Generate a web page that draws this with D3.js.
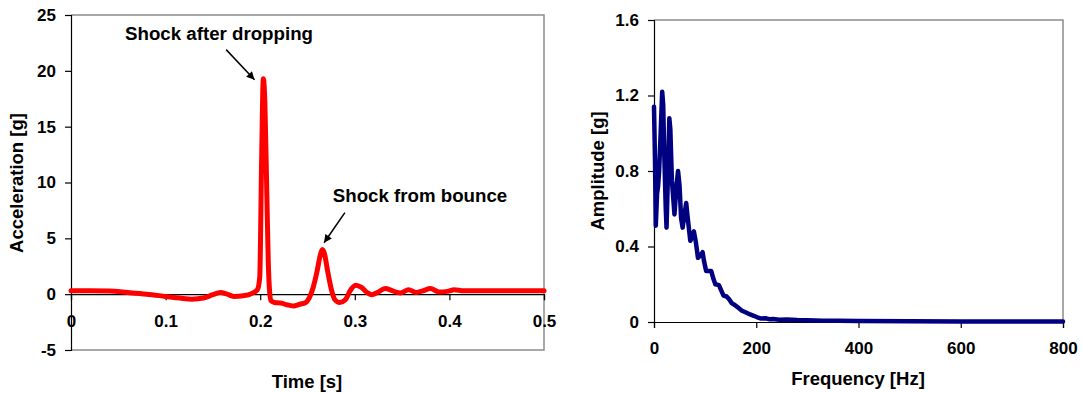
<!DOCTYPE html>
<html>
<head>
<meta charset="utf-8">
<script src="https://cdn.jsdelivr.net/npm/d3@7"></script>
<style>
  body { margin: 0; background: white; }
  text { font-family: "Liberation Sans", Arial, sans-serif; font-weight: bold; fill: black; }
</style>
</head>
<body>
<div id="chart"></div>
<script>
// time signal (left)
var timeValues = [0, 0.02, 0.04, 0.06, 0.08, 0.1, 0.115, 0.128, 0.14, 0.15, 0.158, 0.165, 0.172, 0.182, 0.192, 0.197,
  0.1995, 0.2015, 0.2033, 0.205, 0.207, 0.2085, 0.21, 0.2115, 0.215, 0.222, 0.228, 0.235, 0.242, 0.248, 0.252,
  0.256, 0.26, 0.2635, 0.2657, 0.268, 0.271, 0.275, 0.279, 0.284, 0.29, 0.295, 0.301, 0.307, 0.313, 0.318, 0.324,
  0.332, 0.34, 0.348, 0.357, 0.365, 0.372, 0.38, 0.389, 0.398, 0.405, 0.415, 0.43, 0.45, 0.47, 0.5];
var accelValues = [0.3, 0.3, 0.28, 0.15, 0.0, -0.2, -0.35, -0.45, -0.35, -0.05, 0.15, 0.0, -0.2, -0.15, 0.1, 0.4,
  1.5, 12, 19.3, 17, 9, 3, 0.2, -0.6, -0.75, -0.8, -0.95, -1.05, -0.9, -0.75, -0.3,
  0.6, 2.0, 3.5, 4.0, 3.6, 2.2, 0.5, -0.5, -0.75, -0.5, 0.3, 0.8, 0.6, 0.15, -0.05, 0.15,
  0.5, 0.3, 0.1, 0.4, 0.15, 0.3, 0.5, 0.2, 0.25, 0.4, 0.3, 0.3, 0.3, 0.3, 0.3];
var timeTicks = [0, 0.1, 0.2, 0.3, 0.4, 0.5];
var accelTicks = [-5, 0, 5, 10, 15, 20, 25];

// spectrum (right)
var freqValues = [0, 2, 3.5, 6, 8, 10, 13, 16, 18, 20, 23, 24.5, 27, 30, 32, 35, 37, 40, 44, 47, 50, 53, 56, 60, 63, 66,
  71, 74, 78, 82, 86, 90, 95, 98, 102, 107, 112, 116, 120, 127, 131, 136, 142, 147, 152, 158, 165, 172, 180, 188,
  195, 202, 210, 218, 225, 233, 245, 260, 280, 300, 330, 360, 400, 500, 600, 700, 800];
var ampValues = [1.14, 0.85, 0.51, 0.68, 0.72, 0.8, 1.0, 1.22, 1.15, 0.9, 0.6, 0.5, 0.75, 1.08, 1.02, 0.75, 0.68, 0.57,
  0.72, 0.8, 0.72, 0.55, 0.5, 0.58, 0.63, 0.55, 0.43, 0.45, 0.48, 0.42, 0.34, 0.35, 0.37, 0.32, 0.27, 0.27, 0.27,
  0.23, 0.2, 0.195, 0.17, 0.14, 0.135, 0.12, 0.1, 0.09, 0.075, 0.06, 0.05, 0.04, 0.033, 0.025, 0.018, 0.02, 0.015,
  0.016, 0.012, 0.013, 0.01, 0.009, 0.007, 0.006, 0.005, 0.004, 0.003, 0.003, 0.003];
var freqTicks = [0, 200, 400, 600, 800];
var ampTicks = [0, 0.4, 0.8, 1.2, 1.6];

var annotations = [
  { "label": "Shock after dropping", "tx": 219, "ty": 40 },
  { "label": "Shock from bounce", "tx": 420, "ty": 202 }
];

var svg = d3.select("#chart").append("svg")
            .attr("width", 1083)
            .attr("height", 393);

svg.append("defs").append("marker")
   .attr("id", "head")
   .attr("viewBox", "0 0 10 10")
   .attr("refX", 10).attr("refY", 5)
   .attr("markerWidth", 9).attr("markerHeight", 8)
   .attr("markerUnits", "userSpaceOnUse")
   .attr("orient", "auto")
   .append("path").attr("d", "M0,0 L10,5 L0,10 z").style("fill", "black");

// plain hyphen for negatives, "0" without decimals
var fmt = function (d) { return d === 0 ? "0" : d3.format(".1f")(d); };
var fmtInt = function (d) { return String(d); };

// ---------- left chart ----------
var x1 = d3.scaleLinear().domain([0, 0.5]).range([71, 544]);
var y1 = d3.scaleLinear().domain([-5, 25]).range([350, 15]);

var left = svg.append("g");

left.append("path")
    .attr("d", "M" + x1(0) + "," + y1(25) + "H" + x1(0.5) + "V" + y1(-5) + "H" + x1(0))
    .style("fill", "none").style("stroke", "#8c8c8c").style("stroke-width", 1.5);

left.append("g")
    .attr("transform", "translate(" + x1(0) + ",0)")
    .call(d3.axisLeft(y1).tickValues(accelTicks).tickSizeOuter(0).tickSize(6).tickPadding(9).tickFormat(fmtInt));

left.append("g")
    .attr("transform", "translate(0," + y1(0) + ")")
    .call(d3.axisBottom(x1).tickValues(timeTicks).tickSizeOuter(0).tickSize(6).tickPadding(15).tickFormat(fmt));

var line1 = d3.line()
    .x(function (d, i) { return x1(timeValues[i]); })
    .y(function (d) { return y1(d); })
    .curve(d3.curveMonotoneX);

left.append("path")
    .attr("d", line1(accelValues))
    .style("fill", "none").style("stroke", "#ff0000").style("stroke-width", 5)
    .style("stroke-linejoin", "round").style("stroke-linecap", "round");

left.append("text").attr("transform", "translate(23,183) rotate(-90)")
    .attr("text-anchor", "middle").style("font-size", "18.5px").text("Acceleration [g]");
left.append("text").attr("x", 307).attr("y", 388)
    .attr("text-anchor", "middle").style("font-size", "18.5px").text("Time [s]");

left.selectAll(".note").data(annotations).enter().append("text")
    .attr("class", "note")
    .attr("x", function (d) { return d.tx; })
    .attr("y", function (d) { return d.ty; })
    .attr("text-anchor", "middle").style("font-size", "18.7px")
    .text(function (d) { return d.label; });

// arrows pointing at the two peaks
var arrowData = [
  { "start_x": x1(0.164), "start_y": y1(21.9), "end_x": x1(0.194), "end_y": y1(19.2) },
  { "start_x": x1(0.2895), "start_y": y1(7.3), "end_x": x1(0.2675), "end_y": y1(4.6) }
];
left.selectAll(".arrow").data(arrowData).enter().append("line")
    .attr("x1", function (d) { return d.start_x; })
    .attr("y1", function (d) { return d.start_y; })
    .attr("x2", function (d) { return d.end_x; })
    .attr("y2", function (d) { return d.end_y; })
    .style("stroke", "black").style("stroke-width", 1.5)
    .attr("marker-end", "url(#head)");

// ---------- right chart ----------
var x2 = d3.scaleLinear().domain([0, 800]).range([654, 1063]);
var y2 = d3.scaleLinear().domain([0, 1.6]).range([322, 20]);

var right = svg.append("g");

right.append("path")
    .attr("d", "M" + x2(0) + "," + y2(1.6) + "H" + x2(800) + "V" + y2(0))
    .style("fill", "none").style("stroke", "#8c8c8c").style("stroke-width", 1.5);

right.append("g")
    .attr("transform", "translate(" + x2(0) + ",0)")
    .call(d3.axisLeft(y2).tickValues(ampTicks).tickSizeOuter(0).tickSize(6).tickPadding(9).tickFormat(fmt));

right.append("g")
    .attr("transform", "translate(0," + y2(0) + ")")
    .call(d3.axisBottom(x2).tickValues(freqTicks).tickSizeOuter(0).tickSize(6).tickPadding(14).tickFormat(fmtInt));

var line2 = d3.line()
    .x(function (d, i) { return x2(freqValues[i]); })
    .y(function (d) { return y2(d); });

right.append("path")
    .attr("d", line2(ampValues))
    .style("fill", "none").style("stroke", "#000080").style("stroke-width", 4.5)
    .style("stroke-linejoin", "round").style("stroke-linecap", "round");

right.append("text").attr("transform", "translate(604,171) rotate(-90)")
    .attr("text-anchor", "middle").style("font-size", "18.5px").text("Amplitude [g]");
right.append("text").attr("x", 858).attr("y", 385)
    .attr("text-anchor", "middle").style("font-size", "18.5px").text("Frequency [Hz]");

svg.selectAll(".tick text").style("font-size", "17px").style("font-family", "'Liberation Sans', Arial, sans-serif").style("font-weight", "bold");
svg.selectAll(".domain, .tick line").style("stroke", "black").style("stroke-width", 1.2);
</script>
</body>
</html>
